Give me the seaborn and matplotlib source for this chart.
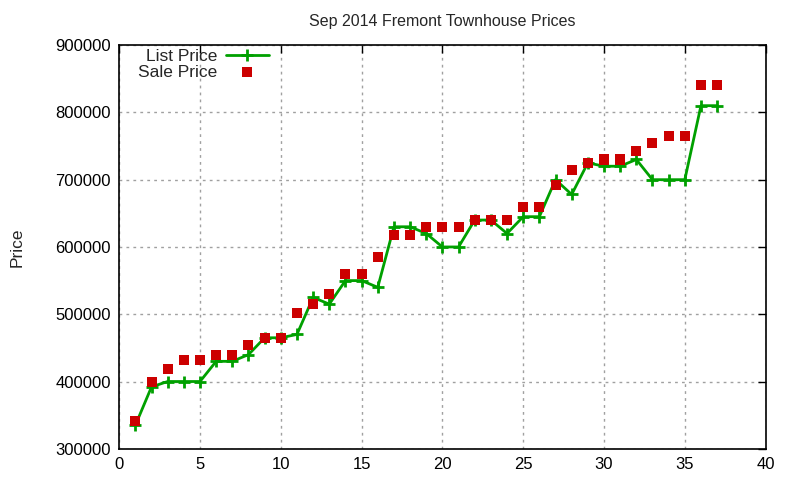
import numpy as np
import pandas as pd
import matplotlib
matplotlib.use("Agg")
import matplotlib.pyplot as plt
import seaborn as sns

# Listing index and prices
listing = list(range(1, 38))
list_price = [335000, 392000, 400000, 400000, 400000, 430000, 430000, 440000, 465000, 465000,
              470000, 525000, 515000, 550000, 550000, 540000, 630000, 630000, 620000, 600000,
              600000, 640000, 640000, 620000, 645000, 645000, 700000, 678000, 725000, 720000,
              720000, 730000, 700000, 700000, 700000, 810000, 810000]
sale_price = [342000, 400000, 418000, 432000, 432000, 440000, 440000, 455000, 465000, 465000,
              502000, 515000, 530000, 560000, 560000, 585000, 618000, 618000, 630000, 630000,
              630000, 640000, 640000, 640000, 660000, 660000, 692000, 715000, 725000, 730000,
              730000, 742000, 755000, 765000, 765000, 840000, 840000]

df = pd.DataFrame({"n": listing, "list": list_price, "sale": sale_price})

sns.set_style("white")
plt.rcParams["font.family"] = ["Liberation Sans", "DejaVu Sans"]

fig = plt.figure(figsize=(8, 4.8), dpi=100)
ax = fig.add_axes([0.149, 0.065, 0.808, 0.841])

sns.lineplot(data=df, x="n", y="list", ax=ax, color="#00a000", linewidth=2,
             linestyle="-", dashes=False, marker="+", markersize=9,
             markeredgewidth=2, markeredgecolor="#00a000", label="List Price")
sns.scatterplot(data=df, x="n", y="sale", ax=ax, color="#cc0000", marker="s",
                s=52, edgecolor="none", label="Sale Price", zorder=3)

ax.set_xlim(0, 40)
ax.set_ylim(300000, 900000)
ax.set_xticks(range(0, 41, 5))
ax.set_yticks(range(300000, 900001, 100000))
ax.ticklabel_format(axis="y", style="plain")
ax.grid(True, linestyle=(0, (2, 3)), color="#a0a0a0", linewidth=1)
ax.tick_params(direction="in", length=6, width=1, labelsize=12, colors="black",
               top=True, right=True, pad=6)
for s in ax.spines.values():
    s.set_color("black")
    s.set_linewidth(1.2)

ax.set_xlabel("")
ax.set_ylabel("Price", fontsize=12.5, labelpad=22)
ax.set_title("Sep 2014 Fremont Townhouse Prices", fontsize=11.5, pad=14)

ax.legend(loc="upper left", bbox_to_anchor=(0.01, 1.02), frameon=False, markerfirst=False,
          fontsize=12.5, handlelength=2.5, handletextpad=0.5, labelspacing=0.0,
          borderaxespad=0.3)

fig.savefig("out.png", dpi=100)
